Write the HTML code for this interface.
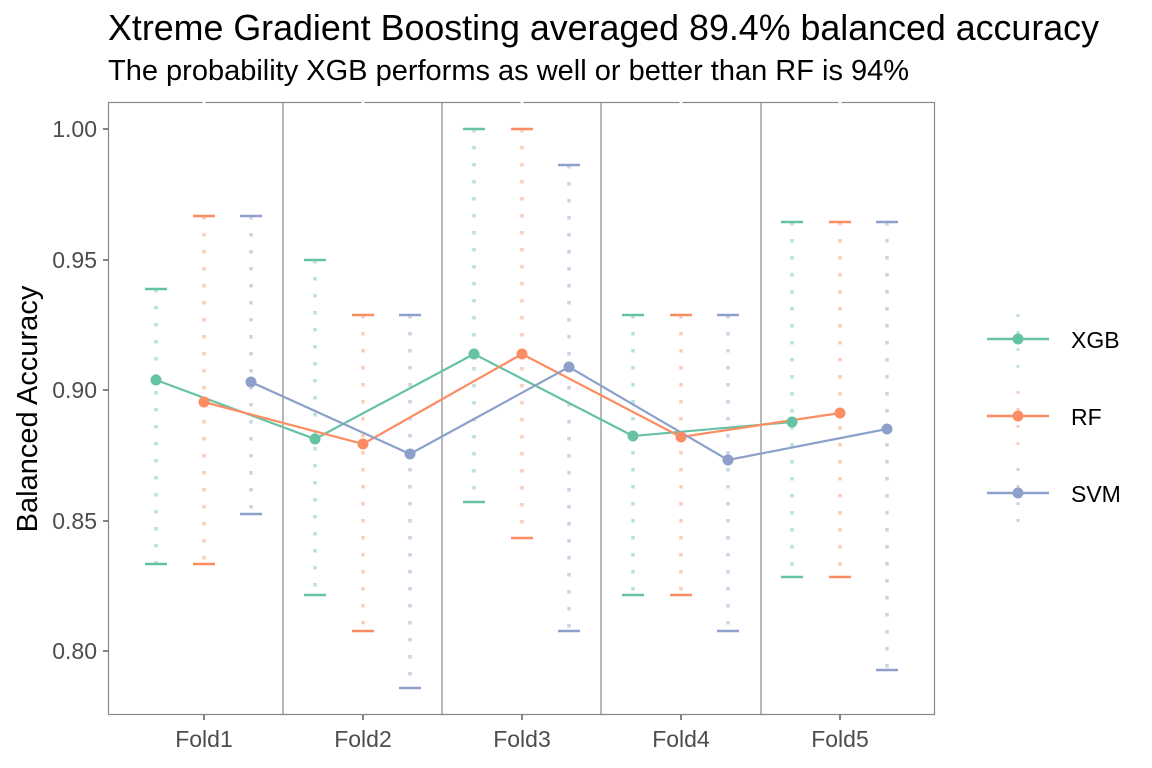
<!DOCTYPE html>
<html><head><meta charset="utf-8"><style>body{margin:0;background:#fff}svg{display:block;font-family:"Liberation Sans",sans-serif}</style></head><body>
<svg width="1152" height="768" viewBox="0 0 1152 768">
<rect width="1152" height="768" fill="#fff"/>
<text x="108" y="40" font-size="35.8" fill="#000">Xtreme Gradient Boosting averaged 89.4% balanced accuracy</text>
<text x="108" y="80" font-size="29" fill="#000">The probability XGB performs as well or better than RF is 94%</text>
<g stroke="#888" stroke-width="1.2">
<line x1="283" y1="102" x2="283" y2="715"/><line x1="442" y1="102" x2="442" y2="715"/><line x1="601" y1="102" x2="601" y2="715"/><line x1="761" y1="102" x2="761" y2="715"/>
</g>
<rect x="108.5" y="102.5" width="826" height="612" fill="none" stroke="#888" stroke-width="1.2"/>
<g stroke="#fff" stroke-width="3"><line x1="204" y1="100" x2="204" y2="104"/><line x1="363" y1="100" x2="363" y2="104"/><line x1="522" y1="100" x2="522" y2="104"/><line x1="681" y1="100" x2="681" y2="104"/><line x1="840" y1="100" x2="840" y2="104"/></g>
<g stroke="#333" stroke-width="1.2">
<line x1="103" y1="129" x2="108" y2="129"/><line x1="103" y1="260" x2="108" y2="260"/><line x1="103" y1="390" x2="108" y2="390"/><line x1="103" y1="521" x2="108" y2="521"/><line x1="103" y1="651" x2="108" y2="651"/>
<line x1="204" y1="715" x2="204" y2="720"/><line x1="363" y1="715" x2="363" y2="720"/><line x1="522" y1="715" x2="522" y2="720"/><line x1="681" y1="715" x2="681" y2="720"/><line x1="840" y1="715" x2="840" y2="720"/>
</g>
<g font-size="23" fill="#4d4d4d" text-anchor="end">
<text x="97" y="137">1.00</text><text x="97" y="268">0.95</text><text x="97" y="398">0.90</text><text x="97" y="529">0.85</text><text x="97" y="659">0.80</text>
</g>
<g font-size="23" fill="#4d4d4d" text-anchor="middle">
<text x="204" y="747">Fold1</text><text x="363" y="747">Fold2</text><text x="522" y="747">Fold3</text><text x="681" y="747">Fold4</text><text x="840" y="747">Fold5</text>
</g>
<text transform="translate(37,409) rotate(-90)" font-size="29" text-anchor="middle" fill="#000">Balanced Accuracy</text>
<g stroke-width="3.5" stroke-dasharray="3.5 13.5" opacity="0.45">
<g stroke="#66c2a5"><line x1="156" y1="289" x2="156" y2="564"/><line x1="315" y1="260" x2="315" y2="595"/><line x1="474" y1="129" x2="474" y2="502"/><line x1="633" y1="315" x2="633" y2="595"/><line x1="792" y1="222" x2="792" y2="577"/></g>
<g stroke="#fc8d62"><line x1="204" y1="216" x2="204" y2="564"/><line x1="363" y1="315" x2="363" y2="631"/><line x1="522" y1="129" x2="522" y2="538"/><line x1="681" y1="315" x2="681" y2="595"/><line x1="840" y1="222" x2="840" y2="577"/></g>
<g stroke="#8da0cb"><line x1="251" y1="216" x2="251" y2="514"/><line x1="410" y1="315" x2="410" y2="688"/><line x1="569" y1="165" x2="569" y2="631"/><line x1="728" y1="315" x2="728" y2="631"/><line x1="887" y1="222" x2="887" y2="670"/></g>
</g>
<g stroke-width="2.5">
<g stroke="#66c2a5"><path d="M145 289h22M145 564h22M304 260h22M304 595h22M463 129h22M463 502h22M622 315h22M622 595h22M781 222h22M781 577h22"/></g>
<g stroke="#fc8d62"><path d="M193 216h22M193 564h22M352 315h22M352 631h22M511 129h22M511 538h22M670 315h22M670 595h22M829 222h22M829 577h22"/></g>
<g stroke="#8da0cb"><path d="M240 216h22M240 514h22M399 315h22M399 688h22M558 165h22M558 631h22M717 315h22M717 631h22M876 222h22M876 670h22"/></g>
</g>
<g stroke-width="2.2" fill="none">
<polyline stroke="#66c2a5" points="156,380 315,439 474,354 633,436 792,422"/>
<polyline stroke="#fc8d62" points="204,402 363,444 522,354 681,437 840,413"/>
<polyline stroke="#8da0cb" points="251,382 410,454 569,367 728,460 887,429"/>
</g>
<g fill="#66c2a5"><circle cx="156" cy="380" r="5.5"/><circle cx="315" cy="439" r="5.5"/><circle cx="474" cy="354" r="5.5"/><circle cx="633" cy="436" r="5.5"/><circle cx="792" cy="422" r="5.5"/></g>
<g fill="#fc8d62"><circle cx="204" cy="402" r="5.5"/><circle cx="363" cy="444" r="5.5"/><circle cx="522" cy="354" r="5.5"/><circle cx="681" cy="437" r="5.5"/><circle cx="840" cy="413" r="5.5"/></g>
<g fill="#8da0cb"><circle cx="251" cy="382" r="5.5"/><circle cx="410" cy="454" r="5.5"/><circle cx="569" cy="367" r="5.5"/><circle cx="728" cy="460" r="5.5"/><circle cx="887" cy="429" r="5.5"/></g>
<g stroke-width="3" stroke-dasharray="3 14" opacity="0.45">
<line x1="1018" y1="314" x2="1018" y2="371" stroke="#66c2a5"/>
<line x1="1018" y1="391" x2="1018" y2="448" stroke="#fc8d62"/>
<line x1="1018" y1="468" x2="1018" y2="525" stroke="#8da0cb"/>
</g>
<g stroke-width="2.5">
<line x1="987" y1="339" x2="1049" y2="339" stroke="#66c2a5"/>
<line x1="987" y1="416" x2="1049" y2="416" stroke="#fc8d62"/>
<line x1="987" y1="493" x2="1049" y2="493" stroke="#8da0cb"/>
</g>
<circle cx="1018" cy="339" r="5.5" fill="#66c2a5"/><circle cx="1018" cy="416" r="5.5" fill="#fc8d62"/><circle cx="1018" cy="493" r="5.5" fill="#8da0cb"/>
<g font-size="23" fill="#000"><text x="1071" y="348">XGB</text><text x="1071" y="425">RF</text><text x="1071" y="502">SVM</text></g>
</svg>
</body></html>
